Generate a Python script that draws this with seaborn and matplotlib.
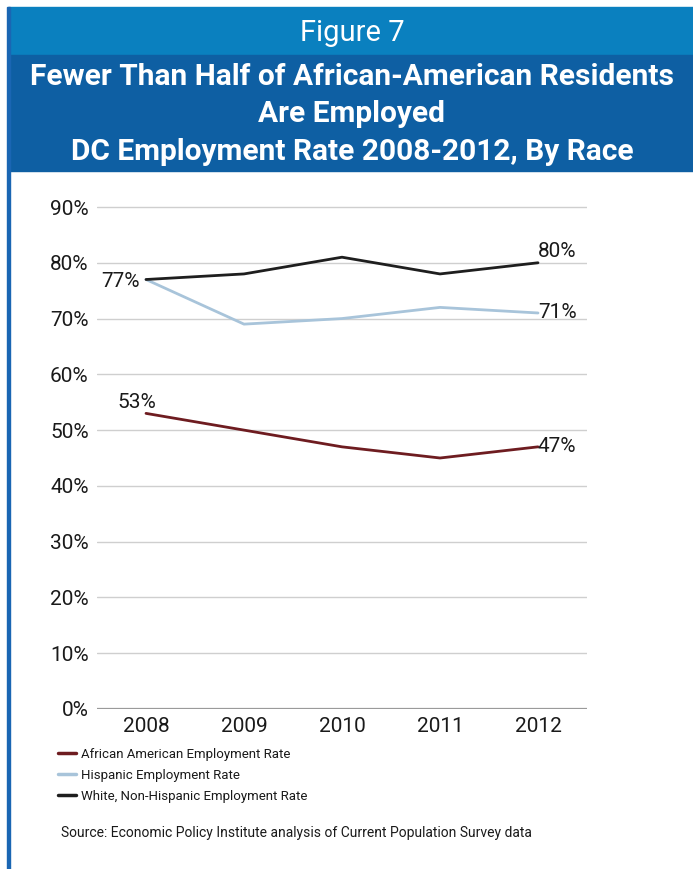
import matplotlib
matplotlib.use("Agg")
import matplotlib.pyplot as plt
from matplotlib.patches import Rectangle
from matplotlib.lines import Line2D
import seaborn as sns
import pandas as pd

years = [2008, 2009, 2010, 2011, 2012]
african_american = [53, 50, 47, 45, 47]
hispanic = [77, 69, 70, 72, 71]
white_non_hispanic = [77, 78, 81, 78, 80]
series_names = [
    "African American Employment Rate",
    "Hispanic Employment Rate",
    "White, Non-Hispanic Employment Rate",
]
series_colors = ["#6e1c20", "#a8c4da", "#1e1e1e"]
y_ticks = [0, 10, 20, 30, 40, 50, 60, 70, 80, 90]

sns.set_theme(style="white")
plt.rcParams["font.family"] = ["Roboto", "DejaVu Sans"]

df = pd.DataFrame({
    "year": years * 3,
    "rate": african_american + hispanic + white_non_hispanic,
    "series": [series_names[0]] * 5 + [series_names[1]] * 5 + [series_names[2]] * 5,
})
df["pos"] = df["year"] - years[0]

W, H = 693, 869
fig = plt.figure(figsize=(W / 100, H / 100), dpi=100)
fig.patch.set_facecolor("white")

# header bands and left frame line
fig.add_artist(Rectangle((8 / W, 1 - 55 / H), 1 - 8 / W, 48 / H, transform=fig.transFigure,
                         color="#0a80bf", zorder=0))
fig.add_artist(Rectangle((8 / W, 1 - 171 / H), 1 - 8 / W, 116 / H, transform=fig.transFigure,
                         color="#0e5fa3", zorder=0))
fig.add_artist(Rectangle((7 / W, 0), 2.5 / W, 1 - 7 / H, transform=fig.transFigure,
                         color="#1a66b3", zorder=0))

fig.text(352 / W, 1 - 33 / H, "Figure 7", color="white", fontsize=21, ha="center", va="center",
         fontweight="normal")
title_lines = ["Fewer Than Half of African-American Residents", "Are Employed",
               "DC Employment Rate 2008-2012, By Race"]
for yy, line in zip([77, 114, 152], title_lines):
    fig.text(352 / W, 1 - yy / H, line, color="white", fontsize=21.5, ha="center", va="center",
             fontweight="bold")

# plot area
y_top = 91
px_per_unit = 502 / 90
top_px = 709 - y_top * px_per_unit
ax = fig.add_axes([97 / W, 1 - 709 / H, 490 / W, (709 - top_px) / H])
ax.set_facecolor("none")

sns.lineplot(data=df, x="pos", y="rate", hue="series", hue_order=series_names,
             palette=series_colors, linewidth=2, ax=ax, legend=False, zorder=3)

ax.set_xlim(-0.5, 4.5)
ax.set_ylim(0, y_top)
ax.set_yticks(y_ticks)
ax.set_yticklabels([f"{t}%" for t in y_ticks])
ax.set_xticks(range(len(years)))
ax.set_xticklabels([str(y) for y in years])
for t in y_ticks[1:]:
    ax.axhline(t, color="#cfcfcf", linewidth=1, zorder=1)
ax.axhline(0, color="#9a9a9a", linewidth=1.6, zorder=1)
for s in ax.spines.values():
    s.set_visible(False)
ax.tick_params(axis="both", length=0, labelsize=15, colors="#1a1a1a")
ax.tick_params(axis="y", pad=6)
ax.tick_params(axis="x", pad=6)
ax.set_xlabel("")
ax.set_ylabel("")

# value labels at the ends of each series
lab_kw = dict(fontsize=15, color="#1a1a1a", va="center")
ax.text(-0.06, white_non_hispanic[0] - 0.3, f"{white_non_hispanic[0]}%", ha="right", **lab_kw)
ax.text(-0.09, african_american[0] + 2.0, f"{african_american[0]}%", ha="center", **lab_kw)
ax.text(4.0, white_non_hispanic[-1] + 2.0, f"{white_non_hispanic[-1]}%", ha="left", **lab_kw)
ax.text(4.0, hispanic[-1], f"{hispanic[-1]}%", ha="left", **lab_kw)
ax.text(4.0, african_american[-1], f"{african_american[-1]}%", ha="left", **lab_kw)

handles = [Line2D([0], [0], color=c, linewidth=2.5) for c in series_colors]
fig.legend(handles, series_names, loc="upper left", bbox_to_anchor=(58 / W, 1 - 748 / H),
           frameon=False, fontsize=9.5, handlelength=1.4, handletextpad=0.35,
           labelspacing=0.6, borderpad=0, borderaxespad=0, labelcolor="#1a1a1a")

fig.text(61 / W, 1 - 833 / H,
         "Source: Economic Policy Institute analysis of Current Population Survey data",
         fontsize=10, color="#1a1a1a", ha="left", va="center")

fig.savefig("out.png", dpi=100)
